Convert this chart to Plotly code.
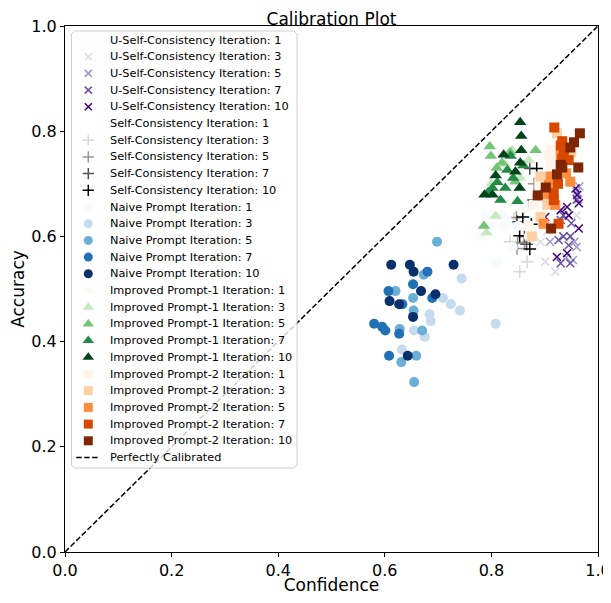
import plotly.graph_objects as go

iterations = [1, 3, 5, 7, 10]

# U-Self-Consistency (x markers)
usc_it1_x = [0.874, 0.860, 0.880, 0.905, 0.890]
usc_it1_y = [0.552, 0.533, 0.570, 0.600, 0.640]
usc_it3_x = [0.901, 0.920, 0.892, 0.960, 0.905]
usc_it3_y = [0.552, 0.533, 0.590, 0.640, 0.610]
usc_it5_x = [0.960, 0.963, 0.956, 0.960, 0.910, 0.953, 0.940, 0.965]
usc_it5_y = [0.685, 0.670, 0.590, 0.580, 0.590, 0.555, 0.560, 0.695]
usc_it7_x = [0.930, 0.935, 0.950, 0.926, 0.935, 0.948, 0.930, 0.948, 0.960, 0.945]
usc_it7_y = [0.631, 0.640, 0.625, 0.593, 0.600, 0.600, 0.549, 0.549, 0.670, 0.583]
usc_it10_x = [0.958, 0.961, 0.964, 0.930, 0.942, 0.964, 0.923, 0.942, 0.901, 0.945]
usc_it10_y = [0.691, 0.679, 0.663, 0.650, 0.656, 0.615, 0.561, 0.568, 0.637, 0.640]

# Self-Consistency (+ markers)
sc_it1_x = [0.840, 0.860, 0.830, 0.850, 0.870]
sc_it1_y = [0.620, 0.550, 0.580, 0.660, 0.700]
sc_it3_x = [0.842, 0.867, 0.853, 0.835, 0.870]
sc_it3_y = [0.634, 0.552, 0.533, 0.590, 0.660]
sc_it5_x = [0.847, 0.849, 0.862, 0.848, 0.880]
sc_it5_y = [0.636, 0.587, 0.589, 0.577, 0.700]
sc_it7_x = [0.872, 0.879, 0.862, 0.866, 0.848]
sc_it7_y = [0.729, 0.669, 0.600, 0.585, 0.628]
sc_it10_x = [0.885, 0.859, 0.875, 0.853, 0.872]
sc_it10_y = [0.729, 0.637, 0.623, 0.601, 0.576]

# Naive Prompt (circles)
naive_it1_x = [0.800, 0.820, 0.830, 0.850, 0.780, 0.860, 0.840, 0.810, 0.870, 0.790]
naive_it1_y = [0.620, 0.640, 0.630, 0.620, 0.600, 0.660, 0.580, 0.550, 0.600, 0.640]
naive_it3_x = [0.744, 0.709, 0.724, 0.741, 0.684, 0.686, 0.655, 0.675, 0.632, 0.808]
naive_it3_y = [0.520, 0.483, 0.471, 0.459, 0.452, 0.439, 0.421, 0.409, 0.385, 0.434]
naive_it5_x = [0.698, 0.673, 0.620, 0.653, 0.654, 0.628, 0.670, 0.659, 0.631, 0.655]
naive_it5_y = [0.590, 0.527, 0.496, 0.483, 0.459, 0.424, 0.421, 0.373, 0.361, 0.323]
naive_it7_x = [0.680, 0.607, 0.653, 0.633, 0.689, 0.580, 0.595, 0.601, 0.627, 0.608]
naive_it7_y = [0.533, 0.496, 0.509, 0.471, 0.483, 0.434, 0.428, 0.421, 0.415, 0.373]
naive_it10_x = [0.612, 0.647, 0.654, 0.729, 0.668, 0.695, 0.609, 0.627, 0.653, 0.643]
naive_it10_y = [0.546, 0.546, 0.533, 0.546, 0.496, 0.490, 0.477, 0.471, 0.447, 0.373]

# Improved Prompt-1 (triangles)
ip1_it1_x = [0.810, 0.830, 0.845, 0.860, 0.820, 0.800, 0.865]
ip1_it1_y = [0.700, 0.660, 0.680, 0.720, 0.620, 0.640, 0.650]
ip1_it3_x = [0.808, 0.791, 0.839, 0.826, 0.854, 0.817, 0.870, 0.800]
ip1_it3_y = [0.639, 0.607, 0.764, 0.736, 0.711, 0.669, 0.745, 0.700]
ip1_it5_x = [0.797, 0.799, 0.883, 0.845, 0.820, 0.786, 0.835, 0.810]
ip1_it5_y = [0.771, 0.753, 0.764, 0.704, 0.740, 0.620, 0.760, 0.730]
ip1_it7_x = [0.836, 0.830, 0.841, 0.811, 0.826, 0.794, 0.817, 0.849, 0.802, 0.860]
ip1_it7_y = [0.753, 0.726, 0.711, 0.703, 0.692, 0.684, 0.669, 0.667, 0.692, 0.735]
ip1_it10_x = [0.854, 0.856, 0.856, 0.823, 0.854, 0.845, 0.808, 0.787, 0.802, 0.853]
ip1_it10_y = [0.817, 0.791, 0.764, 0.755, 0.740, 0.723, 0.716, 0.679, 0.679, 0.692]

# Improved Prompt-2 (squares)
ip2_it1_x = [0.908, 0.911, 0.911, 0.890, 0.880, 0.870]
ip2_it1_y = [0.755, 0.736, 0.765, 0.700, 0.660, 0.620]
ip2_it3_x = [0.923, 0.892, 0.876, 0.892, 0.913, 0.950, 0.905]
ip2_it3_y = [0.796, 0.637, 0.600, 0.714, 0.690, 0.760, 0.660]
ip2_it5_x = [0.930, 0.911, 0.908, 0.898, 0.948, 0.920, 0.940, 0.900]
ip2_it5_y = [0.755, 0.714, 0.698, 0.624, 0.704, 0.660, 0.720, 0.680]
ip2_it7_x = [0.918, 0.933, 0.933, 0.930, 0.936, 0.917, 0.917, 0.926, 0.925, 0.945]
ip2_it7_y = [0.807, 0.781, 0.748, 0.773, 0.755, 0.682, 0.669, 0.624, 0.700, 0.745]
ip2_it10_x = [0.966, 0.955, 0.948, 0.963, 0.933, 0.923, 0.902, 0.887, 0.912, 0.930]
ip2_it10_y = [0.796, 0.779, 0.769, 0.731, 0.731, 0.718, 0.693, 0.678, 0.615, 0.736]

purples = ["#fcfbfd", "#dadaeb", "#9e9ac8", "#6a51a3", "#3f007d"]
greys = ["#ffffff", "#d9d9d9", "#969696", "#525252", "#000000"]
blues = ["#f7fbff", "#c6dbef", "#6baed6", "#2171b5", "#08306b"]
greens = ["#f7fcf5", "#c7e9c0", "#74c476", "#238b45", "#00441b"]
oranges = ["#fff5eb", "#fdd0a2", "#fd8d3c", "#d94801", "#7f2704"]

families = [
    ("U-Self-Consistency", "x-thin", purples, 8,
     [(usc_it1_x, usc_it1_y), (usc_it3_x, usc_it3_y), (usc_it5_x, usc_it5_y),
      (usc_it7_x, usc_it7_y), (usc_it10_x, usc_it10_y)]),
    ("Self-Consistency", "cross-thin", greys, 9,
     [(sc_it1_x, sc_it1_y), (sc_it3_x, sc_it3_y), (sc_it5_x, sc_it5_y),
      (sc_it7_x, sc_it7_y), (sc_it10_x, sc_it10_y)]),
    ("Naive Prompt", "circle", blues, 10,
     [(naive_it1_x, naive_it1_y), (naive_it3_x, naive_it3_y), (naive_it5_x, naive_it5_y),
      (naive_it7_x, naive_it7_y), (naive_it10_x, naive_it10_y)]),
    ("Improved Prompt-1", "triangle-up", greens, 11,
     [(ip1_it1_x, ip1_it1_y), (ip1_it3_x, ip1_it3_y), (ip1_it5_x, ip1_it5_y),
      (ip1_it7_x, ip1_it7_y), (ip1_it10_x, ip1_it10_y)]),
    ("Improved Prompt-2", "square", oranges, 10,
     [(ip2_it1_x, ip2_it1_y), (ip2_it3_x, ip2_it3_y), (ip2_it5_x, ip2_it5_y),
      (ip2_it7_x, ip2_it7_y), (ip2_it10_x, ip2_it10_y)]),
]

DASH = "5.5px,2.4px"


def make_marker(symbol, size, color):
    marker = dict(symbol=symbol, size=size, color=color)
    if symbol.endswith("-thin"):
        marker["line"] = dict(color=color, width=1.5)
    else:
        marker["line"] = dict(width=0)
    return marker


fig = go.Figure()

entries = []
for name, symbol, colors, size, series in families:
    for it, color, (xs, ys) in zip(iterations, colors, series):
        label = f"{name} Iteration: {it}"
        fig.add_trace(go.Scatter(x=xs, y=ys, mode="markers", name=label,
                                 marker=make_marker(symbol, size, color)))
        entries.append((label, symbol, size, color))

fig.add_trace(go.Scatter(x=[0, 1], y=[0, 1], mode="lines", name="Perfectly Calibrated",
                         line=dict(color="black", dash=DASH, width=1.5)))

# hand-made legend on an overlay axis measured in plot pixels (matplotlib-like spacing)
plot_w, plot_h = 533, 526
box_l, box_r, box_t, box_b = 6.5, 232, 5, 442
sym_x, text_x, row0, row_h = 23.3, 43.3, 14, 16.7

r = 3
box_x = [box_l + r, box_r - r, box_r, box_r, box_r - r, box_l + r, box_l, box_l, box_l + r]
box_y = [box_t, box_t, box_t + r, box_b - r, box_b, box_b, box_b - r, box_t + r, box_t]
fig.add_trace(go.Scatter(x=box_x, y=box_y, xaxis="x2", yaxis="y2", mode="lines",
                         fill="toself", fillcolor="rgba(255,255,255,0.8)",
                         line=dict(color="#d0d0d0", width=1), hoverinfo="skip",
                         showlegend=False))

for i, (label, symbol, size, color) in enumerate(entries):
    yy = row0 + i * row_h
    fig.add_trace(go.Scatter(x=[sym_x], y=[yy], xaxis="x2", yaxis="y2", mode="markers",
                             marker=make_marker(symbol, size - 1, color),
                             hoverinfo="skip", showlegend=False))
    fig.add_annotation(x=text_x, y=yy, xref="x2", yref="y2", text=label,
                       showarrow=False, xanchor="left", yanchor="middle",
                       font=dict(size=11.3, color="black"))

yy = row0 + len(entries) * row_h
fig.add_trace(go.Scatter(x=[sym_x - 12, sym_x + 10], y=[yy, yy], xaxis="x2", yaxis="y2",
                         mode="lines", line=dict(color="black", dash=DASH, width=1.5),
                         hoverinfo="skip", showlegend=False))
fig.add_annotation(x=text_x, y=yy, xref="x2", yref="y2", text="Perfectly Calibrated",
                   showarrow=False, xanchor="left", yanchor="middle",
                   font=dict(size=11.3, color="black"))

axis_style = dict(range=[0, 1], autorange=False, showgrid=False, zeroline=False,
                  showline=True, linecolor="black", linewidth=1, mirror=True,
                  ticks="outside", ticklen=4, tickcolor="black", tickformat=".1f",
                  dtick=0.2, tickfont=dict(size=16, color="black"), automargin=False)

# page body adds an 8px margin, so the figure is smaller than the window
fig.update_layout(
    width=603, height=587,
    margin=dict(l=57, r=13, t=18, b=43),
    plot_bgcolor="white", paper_bgcolor="white",
    font=dict(family="DejaVu Sans", color="black"),
    title=dict(text="Calibration Plot", x=0.5, xref="paper", xanchor="center",
               yref="paper", y=1, yanchor="bottom", pad=dict(b=1),
               font=dict(size=17)),
    xaxis=dict(axis_style, title=dict(text="Confidence", font=dict(size=17), standoff=7)),
    yaxis=dict(axis_style, title=dict(text="Accuracy", font=dict(size=17), standoff=3)),
    xaxis2=dict(overlaying="x", anchor="y2", range=[0, plot_w], autorange=False,
                visible=False, fixedrange=True),
    yaxis2=dict(overlaying="y", anchor="x2", range=[plot_h, 0], autorange=False,
                visible=False, fixedrange=True),
    showlegend=False,
)

fig.write_html("out.html")
